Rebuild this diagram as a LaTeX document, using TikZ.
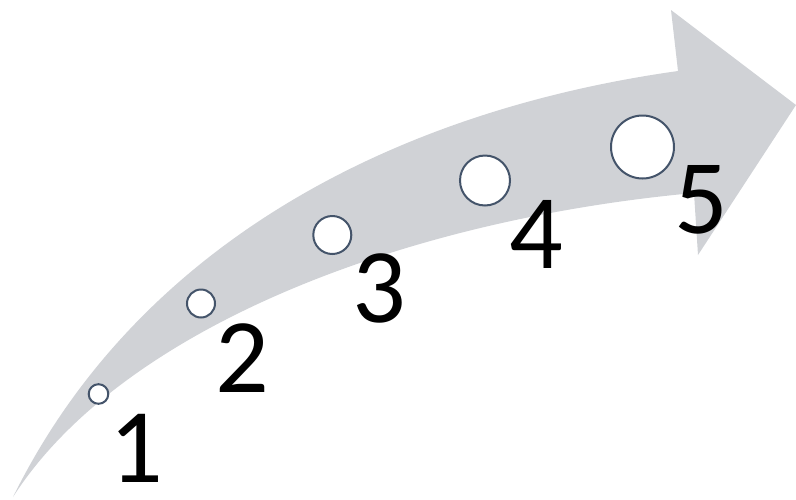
\documentclass[tikz,border=0pt]{standalone}
\usepackage{fontspec}
\setmainfont{Carlito}
\definecolor{arrowgray}{RGB}{208,210,214}
\definecolor{circline}{RGB}{68,84,106}
\begin{document}
\begin{tikzpicture}[x=1pt,y=-1pt,
  dot/.style={circle, draw=circline, fill=white, line width=2pt, inner sep=0pt},
  num/.style={font=\fontsize{106}{106}\selectfont, anchor=base, inner sep=0pt}]
\useasboundingbox (0,0) rectangle (796,499);
\fill[arrowgray] (13,497) .. controls (140,240) and (400,110) .. (678,71) -- (671,10) -- (796,105) -- (698,255) -- (694,193) .. controls (400,220) and (120,330) .. (13,497) -- cycle;
\node[dot, minimum size=19.6pt] (c1) at (98.5,394) {};
\node[dot, minimum size=28pt] (c2) at (201,303.5) {};
\node[dot, minimum size=38pt] (c3) at (332.3,235) {};
\node[dot, minimum size=50pt] (c4) at (485,180.5) {};
\node[dot, minimum size=63pt] (c5) at (642.5,147) {};
\node[num] (n1) at (136,482) {1};
\node[num] (n2) at (242,392) {2};
\node[num] (n3) at (379,322) {3};
\node[num] (n4) at (536,268) {4};
\node[num] (n5) at (701,233) {5};
\end{tikzpicture}
\end{document}
